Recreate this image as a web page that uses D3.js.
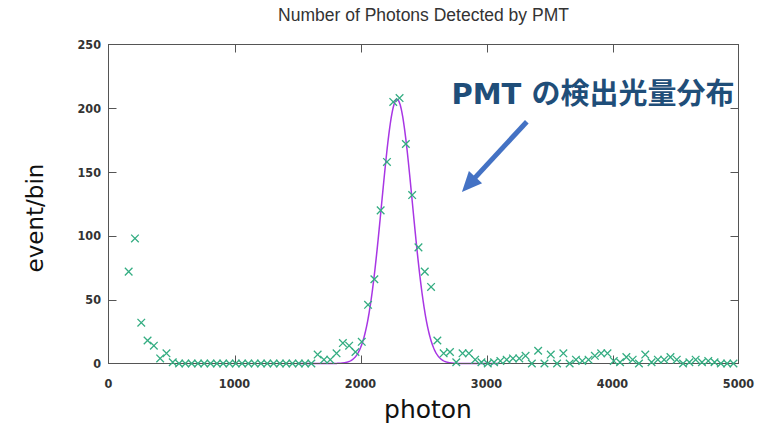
<!DOCTYPE html>
<html>
<head>
<meta charset="utf-8">
<script src="https://cdn.jsdelivr.net/npm/d3@7"></script>
<style>
  html, body { margin: 0; padding: 0; background: #fff; }
  svg { display: block; }
</style>
</head>
<body>
<svg id="chart" width="766" height="429"></svg>
<script>
// Photon-count histogram of the PMT with a Gaussian fit.
const binCenters = d3.range(160, 5000, 50); // histogram bin centres (photons)
const eventsPerBin = [
  72, 98, 32, 18, 14, 4, 8, 1,
  0, 0, 0, 0, 0, 0, 0, 0, 0, 0, 0, 0, 0, 0, 0, 0, 0, 0, 0, 0, 0, 0,
  7, 3, 3, 8, 16, 14, 9, 17,
  46, 66, 120, 158, 205, 208, 172, 132, 91, 72, 60, 18,
  8, 9, 1, 8, 8, 3, 1,
  0, 1, 2, 3, 4, 4, 6, 0, 10, 0, 7, 0, 8, 0, 3, 2, 3,
  6, 8, 8, 2, 1, 5, 3, 0, 7, 1, 3, 3, 5, 3, 0, 1, 3, 1, 2, 1, 0, 0, 0
];
const xTicks = [0, 1000, 2000, 3000, 4000, 5000];
const yTicks = [0, 50, 100, 150, 200, 250];

// Gaussian fit parameters
const fitAmp = 207, fitMean = 2290, fitSigma = 122;
const fitRange = [1500, 3100];

// Annotation anchor points in data units
const noteText = "PMT の検出光量分布";
const notePos = [2722, 203.5];
const arrowFrom = [3320, 189.5];
const arrowTo = [2805, 134.5];

const svg = d3.select("#chart");
const x = d3.scaleLinear().domain([0, 5000]).range([108.5, 738.5]);
const y = d3.scaleLinear().domain([0, 250]).range([363.5, 44.5]);

const tickFont = "'DejaVu Sans Condensed', 'Liberation Sans Narrow', sans-serif";

// Title
svg.append("text")
  .attr("x", 423.5).attr("y", 20.5)
  .attr("text-anchor", "middle")
  .attr("font-family", "'Liberation Sans', Arial, sans-serif")
  .attr("font-size", 17.5)
  .attr("fill", "#333")
  .text("Number of Photons Detected by PMT");

// Fit curve
const fitPts = d3.range(fitRange[0], fitRange[1] + 1, 4).map(p =>
  [p, fitAmp * Math.exp(-0.5 * Math.pow((p - fitMean) / fitSigma, 2))]);
svg.append("path")
  .datum(fitPts)
  .attr("fill", "none")
  .attr("stroke", "#a836e4")
  .attr("stroke-width", 1.5)
  .attr("d", d3.line().x(d => x(d[0])).y(d => y(d[1])));

// Frame and inward ticks on all four sides
const frame = svg.append("g").attr("stroke", "#555").attr("stroke-width", 1).attr("fill", "none");
frame.append("rect")
  .attr("x", x(0)).attr("y", y(250))
  .attr("width", x(5000) - x(0)).attr("height", y(0) - y(250));
const tl = 8;
xTicks.slice(1, -1).forEach(t => {
  const px = Math.round(x(t)) + 0.5;
  frame.append("line").attr("x1", px).attr("x2", px).attr("y1", y(0)).attr("y2", y(0) - tl);
  frame.append("line").attr("x1", px).attr("x2", px).attr("y1", y(250)).attr("y2", y(250) + tl);
});
yTicks.slice(1, -1).forEach(t => {
  const py = Math.round(y(t)) + 0.5;
  frame.append("line").attr("x1", x(0)).attr("x2", x(0) + tl).attr("y1", py).attr("y2", py);
  frame.append("line").attr("x1", x(5000)).attr("x2", x(5000) - tl).attr("y1", py).attr("y2", py);
});

// Tick labels
svg.append("g").selectAll("text").data(yTicks).join("text")
  .attr("x", 101).attr("y", d => y(d)).attr("dy", "0.36em")
  .attr("text-anchor", "end")
  .attr("font-family", tickFont).attr("font-weight", "bold").attr("font-size", 12.5)
  .attr("fill", "#333")
  .text(d => d);
svg.append("g").selectAll("text").data(xTicks).join("text")
  .attr("x", d => x(d)).attr("y", 383).attr("dy", "0.36em")
  .attr("text-anchor", "middle")
  .attr("font-family", tickFont).attr("font-weight", "bold").attr("font-size", 12.5)
  .attr("fill", "#333")
  .text(d => d);

// Axis titles
svg.append("text")
  .attr("x", 428).attr("y", 418)
  .attr("text-anchor", "middle")
  .attr("font-family", "'DejaVu Sans', Verdana, sans-serif")
  .attr("font-size", 25)
  .attr("fill", "#111")
  .text("photon");
svg.append("text")
  .attr("transform", "translate(43,218) rotate(-90)")
  .attr("text-anchor", "middle")
  .attr("font-family", "'DejaVu Sans', Verdana, sans-serif")
  .attr("font-size", 23)
  .attr("fill", "#111")
  .text("event/bin");

// Data points (crosses)
const pts = binCenters.map((c, i) => [c, eventsPerBin[i]]);
const r = 3.8;
svg.append("g")
  .attr("stroke", "#34ad82").attr("stroke-width", 1.3).attr("fill", "none")
  .selectAll("path").data(pts).join("path")
  .attr("d", d => {
    const cx = x(d[0]), cy = y(d[1]);
    return `M${cx - r},${cy - r}L${cx + r},${cy + r}M${cx - r},${cy + r}L${cx + r},${cy - r}`;
  });

// Annotation
svg.append("text")
  .attr("x", x(notePos[0])).attr("y", y(notePos[1]))
  .attr("font-family", "'DejaVu Sans', 'Noto Sans CJK JP', sans-serif")
  .attr("font-weight", "bold").attr("font-size", 29)
  .attr("fill", "#1f4e79")
  .text(noteText);

const ax0 = x(arrowFrom[0]), ay0 = y(arrowFrom[1]);
const ax1 = x(arrowTo[0]), ay1 = y(arrowTo[1]);
const len = Math.hypot(ax1 - ax0, ay1 - ay0);
const ux = (ax1 - ax0) / len, uy = (ay1 - ay0) / len;
const headLen = 20, headHalf = 9;
const bx = ax1 - ux * headLen, by = ay1 - uy * headLen;
svg.append("line")
  .attr("x1", ax0).attr("y1", ay0).attr("x2", bx + ux * 2).attr("y2", by + uy * 2)
  .attr("stroke", "#4472c4").attr("stroke-width", 5);
svg.append("path")
  .attr("d", `M${ax1},${ay1}L${bx - uy * headHalf},${by + ux * headHalf}L${bx + uy * headHalf},${by - ux * headHalf}Z`)
  .attr("fill", "#4472c4");
</script>
</body>
</html>
